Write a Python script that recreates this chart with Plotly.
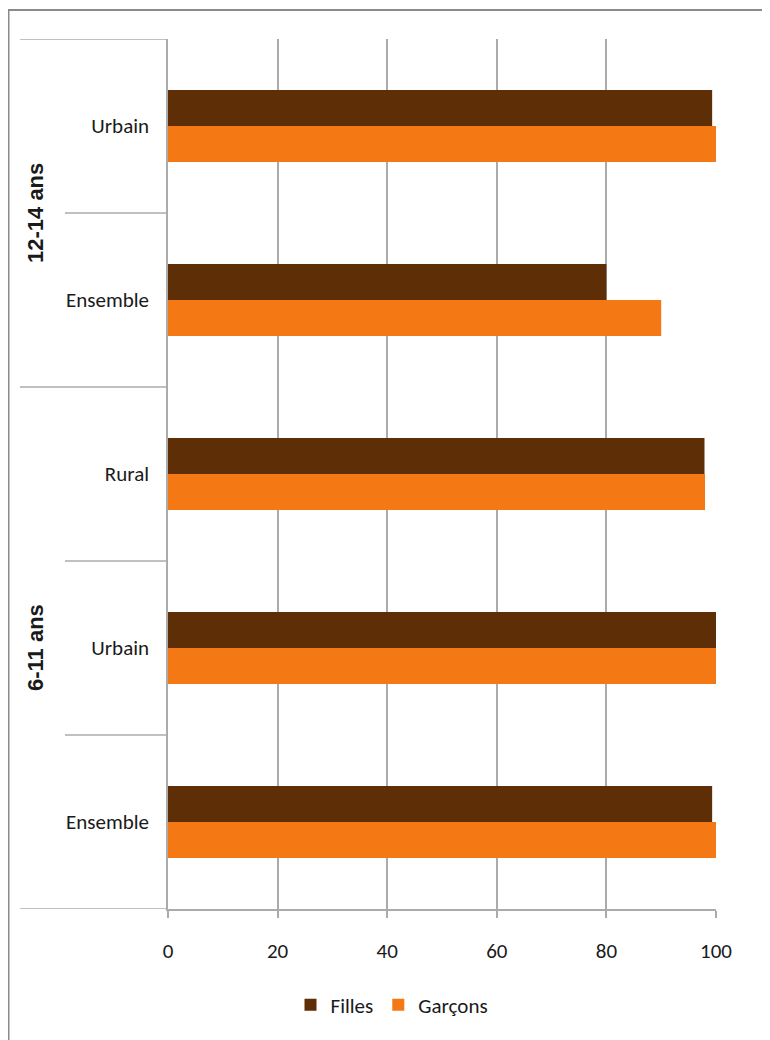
import plotly.graph_objects as go

# Data
categories = ["Ensemble", "Urbain", "Rural", "Ensemble", "Urbain"]
groups = ["6-11 ans", "6-11 ans", "6-11 ans", "12-14 ans", "12-14 ans"]
filles = [99.3, 100, 97.9, 80, 99.3]
garcons = [100, 100, 98, 90, 100]
x_ticks = [0, 20, 40, 60, 80, 100]

FONT = "Carlito, Lato, sans-serif"
C_FILLES = "#5E2E06"
C_GARCONS = "#F47914"
GRID = "#ABABAB"

# page offset of 8px (body margin) taken into account
W, H = 762, 1032
L, R, T, B = 160, 54, 31, 131
pw = W - L - R
ph = H - T - B

def px_to_paper_x(px):
    return (px - L) / pw

def px_to_paper_y(py):
    return (H - B - py) / ph

ypos = list(range(len(categories)))

fig = go.Figure()
fig.add_trace(go.Bar(y=ypos, x=garcons, orientation="h", name="Garçons",
                     marker=dict(color=C_GARCONS, line=dict(width=0)), legendrank=2))
fig.add_trace(go.Bar(y=ypos, x=filles, orientation="h", name="Filles",
                     marker=dict(color=C_FILLES, line=dict(width=0)), legendrank=1))

shapes = []
n = len(categories)
bounds = [i - 0.5 for i in range(n + 1)]
for i, b in enumerate(bounds):
    if i == 0 or i == n:
        outer = True
    else:
        outer = groups[i - 1] != groups[i]
    x0 = px_to_paper_x(12 if outer else 57)
    shapes.append(dict(type="line", xref="paper", yref="y", x0=x0, x1=0, y0=b, y1=b,
                       line=dict(color=GRID, width=1.5)))
# Outer frame
shapes.append(dict(type="rect", xref="paper", yref="paper",
                   x0=px_to_paper_x(0.5), x1=px_to_paper_x(W + 10),
                   y0=px_to_paper_y(H + 10), y1=px_to_paper_y(2),
                   line=dict(color="#8A8A8A", width=2), fillcolor="rgba(0,0,0,0)", layer="below"))

annotations = []
uniq = []
for g in groups:
    if g not in uniq:
        uniq.append(g)
for g in uniq:
    idx = [i for i, gg in enumerate(groups) if gg == g]
    center = (min(idx) + max(idx)) / 2
    annotations.append(dict(text=g, xref="paper", yref="y", x=px_to_paper_x(27), y=center,
                            textangle=-90, showarrow=False, xanchor="center", yanchor="middle",
                            font=dict(family="Liberation Sans, Arial, sans-serif", size=22,
                                      color="#1a1a1a", weight="bold")))

fig.update_layout(
    width=W, height=H,
    margin=dict(l=L, r=R, t=T, b=B),
    paper_bgcolor="white", plot_bgcolor="white",
    barmode="group", bargap=0.586, bargroupgap=0,
    font=dict(family=FONT, size=21, color="#1a1a1a"),
    showlegend=True,
    legend=dict(orientation="h", x=px_to_paper_x(384), y=px_to_paper_y(997),
                xanchor="center", yanchor="middle", xref="paper", yref="paper",
                font=dict(family=FONT, size=21), itemwidth=30, tracegroupgap=0),
    shapes=shapes,
    annotations=annotations,
    xaxis=dict(range=[0, 100], tickvals=x_ticks, ticktext=[str(v) for v in x_ticks],
               showgrid=True, gridcolor=GRID, gridwidth=1.5, zeroline=False,
               showline=True, linecolor=GRID, linewidth=1.5,
               ticks="outside", ticklen=7, tickcolor=GRID, tickwidth=1.5,
               tickfont=dict(family=FONT, size=21, color="#1a1a1a"), ticklabelstandoff=15,
               fixedrange=True),
    yaxis=dict(range=[-0.5, n - 0.5], tickvals=ypos, ticktext=categories,
               showgrid=False, zeroline=False, showline=True, linecolor=GRID, linewidth=1.5,
               ticks="", tickfont=dict(family=FONT, size=21, color="#1a1a1a"),
               ticklabelstandoff=13, fixedrange=True),
)

fig.write_html("out.html")
